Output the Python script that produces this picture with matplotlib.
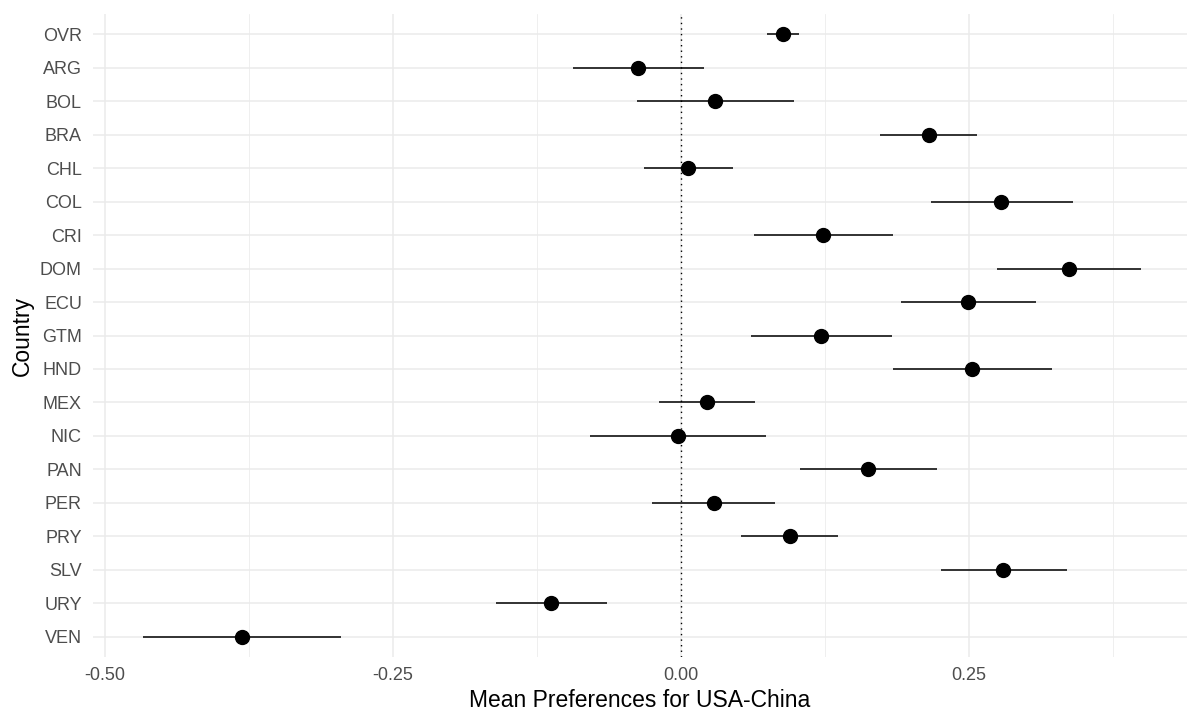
import numpy as np
import matplotlib
matplotlib.use("Agg")
import matplotlib.pyplot as plt
from matplotlib.ticker import MultipleLocator

plt.rcParams['font.family'] = ['Liberation Sans', 'DejaVu Sans']

# countries, top to bottom
countries = ['OVR', 'ARG', 'BOL', 'BRA', 'CHL', 'COL', 'CRI', 'DOM', 'ECU', 'GTM',
             'HND', 'MEX', 'NIC', 'PAN', 'PER', 'PRY', 'SLV', 'URY', 'VEN']
means = [0.0885, -0.037, 0.0295, 0.215, 0.006, 0.278, 0.123, 0.337, 0.249, 0.1215,
         0.253, 0.0226, -0.0026, 0.162, 0.0286, 0.0946, 0.2795, -0.113, -0.381]
lower = [0.075, -0.094, -0.038, 0.173, -0.032, 0.217, 0.063, 0.274, 0.191, 0.061,
         0.184, -0.019, -0.079, 0.103, -0.025, 0.052, 0.226, -0.161, -0.467]
upper = [0.102, 0.020, 0.098, 0.257, 0.045, 0.340, 0.184, 0.399, 0.308, 0.183,
         0.322, 0.064, 0.074, 0.222, 0.082, 0.136, 0.335, -0.064, -0.295]

xticks = [-0.50, -0.25, 0.00, 0.25]
xtick_labels = ['-0.50', '-0.25', '0.00', '0.25']

fig = plt.figure(figsize=(11.87, 7.12), dpi=100)
ax = fig.add_axes([93 / 1187, 55 / 712, (1187 - 93) / 1187, (657 - 14) / 712])

y = np.arange(len(countries))[::-1]

# grid
ax.set_axisbelow(True)
ax.xaxis.set_minor_locator(MultipleLocator(0.125))
ax.grid(which='major', axis='both', color='#ebebeb', linewidth=1.1)
ax.grid(which='minor', axis='x', color='#ebebeb', linewidth=0.55)

ax.axvline(0, color='black', linestyle=(0, (1, 3)), linewidth=1.0, zorder=2)

ax.hlines(y, lower, upper, color='black', linewidth=1.1, zorder=3)
ax.plot(means, y, 'o', color='black', markersize=10, zorder=4)

ax.set_xlim(-0.5104, 0.4392)
ax.set_ylim(-0.6, len(countries) - 0.4)
ax.set_xticks(xticks)
ax.set_xticklabels(xtick_labels)
ax.set_yticks(y)
ax.set_yticklabels(countries)

ax.tick_params(axis='both', which='both', length=0, labelsize=13, labelcolor='#4d4d4d')
ax.tick_params(axis='x', pad=7)
ax.tick_params(axis='y', pad=8)
for s in ax.spines.values():
    s.set_visible(False)

ax.set_xlabel('Mean Preferences for USA-China', fontsize=16.5, labelpad=4)
ax.set_ylabel('Country', fontsize=16.5, labelpad=4)

fig.savefig('out.png', dpi=100)
